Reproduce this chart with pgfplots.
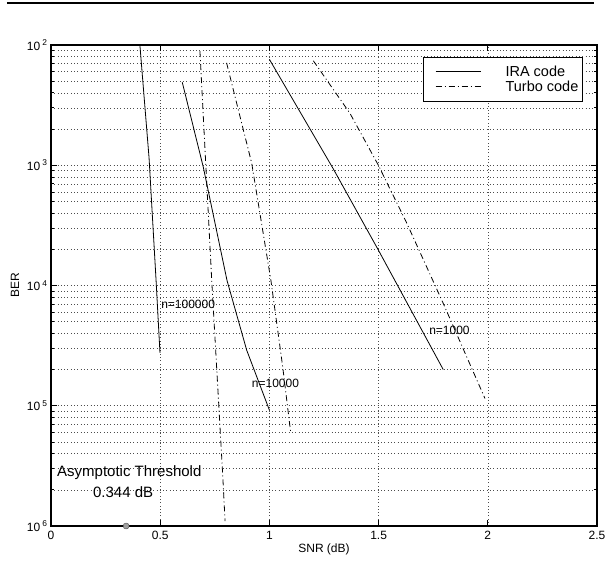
\documentclass[border=0pt]{standalone}
\usepackage{fontspec}
\setmainfont{Liberation Sans}
\usepackage{pgfplots}
\pgfplotsset{compat=1.18}

\pgfplotstableread{
x y
0.407 1.0e-2
0.449 1.15e-3
0.481 1.11e-4
0.499 2.75e-5
}\iraA
\pgfplotstableread{
x y
0.601 4.9e-3
0.697 9.7e-4
0.806 1.1e-4
0.896 2.9e-5
1.000 9.2e-6
}\iraB
\pgfplotstableread{
x y
1.000 7.6e-3
1.293 9.3e-4
1.499 1.97e-4
1.796 2.0e-5
}\iraC
\pgfplotstableread{
x y
0.682 8.9e-3
0.710 9.1e-4
0.736 1.1e-4
0.786 2.7e-6
0.797 1.1e-6
}\turboA
\pgfplotstableread{
x y
0.804 7.1e-3
0.919 1.04e-3
1.007 1.1e-4
1.061 2.1e-5
1.097 6.1e-6
}\turboB
\pgfplotstableread{
x y
1.201 7.4e-3
1.369 2.7e-3
1.499 1.0e-3
1.629 3.3e-4
1.796 7.1e-5
1.987 1.15e-5
}\turboC

\tikzset{dashdot/.style={dash pattern=on 6bp off 3bp on 1bp off 3bp}}
\newcommand{\tk}{\fontsize{12bp}{14bp}\selectfont}
\newcommand{\bg}{\fontsize{14.5bp}{16.7bp}\selectfont}
\newcommand{\an}{\fontsize{15bp}{17bp}\selectfont}

\begin{document}
\begin{tikzpicture}
\useasboundingbox (-51bp,-38bp) rectangle (554bp,526bp);
\begin{axis}[
  scale only axis, width=546bp, height=481bp,
  xmin=0, xmax=2.5, ymin=1e-6, ymax=1e-2,
  ymode=log,
  xtick={0,0.5,1,1.5,2,2.5},
  ytick={1e-6,1e-5,1e-4,1e-3,1e-2},
  yticklabels={10\hspace{2bp}\textsuperscript{6},10\hspace{2bp}\textsuperscript{5},
               10\hspace{2bp}\textsuperscript{4},10\hspace{2bp}\textsuperscript{3},
               10\hspace{2bp}\textsuperscript{2}},
  /pgf/number format/assume math mode=true,
  tick label style={font=\tk},
  xticklabel style={yshift=-2bp},
  tick align=inside,
  major tick length=6bp, minor tick length=3bp,
  axis line style={line width=1.2bp},
  tick style={black, line width=0.8bp},
  xmajorgrids, ymajorgrids, yminorgrids,
  major grid style={black!70, line width=0.6bp, dash pattern=on 0.7bp off 2.6bp},
  minor grid style={black!70, line width=0.6bp, dash pattern=on 0.7bp off 2.6bp},
  xlabel={SNR (dB)}, ylabel={BER},
  label style={font=\tk},
  xlabel style={at={(axis description cs:0.5,-0.048)}, anchor=center},
  ylabel style={at={(axis description cs:-0.066,0.5)}, anchor=center},
  legend style={at={(0.974,0.976)}, anchor=north east, draw=black,
    line width=0.9bp, font=\bg, inner xsep=2bp, inner ysep=7bp,
    row sep=0bp, nodes={inner xsep=2bp, inner ysep=1.5bp}},
  legend cell align=left,
  legend image code/.code={
    \draw[#1, line width=0.8bp] (10bp,0bp) -- (55bp,0bp);
    \path[draw=none] (0bp,0bp) -- (78bp,0bp);},
  clip=false,
]
\addplot[black, line width=0.8bp] table[x=x,y=y] {\iraA};
\addlegendentry{IRA code}
\addplot[black, line width=0.8bp, dashdot] table[x=x,y=y] {\turboA};
\addlegendentry{Turbo code}
\addplot[black, line width=0.8bp, forget plot] table[x=x,y=y] {\iraB};
\addplot[black, line width=0.8bp, forget plot] table[x=x,y=y] {\iraC};
\addplot[black, line width=0.8bp, dashdot, forget plot] table[x=x,y=y] {\turboB};
\addplot[black, line width=0.8bp, dashdot, forget plot] table[x=x,y=y] {\turboC};
\addplot[only marks, mark=*, mark size=3bp,
  mark options={fill=gray!75, draw=gray!60!black, line width=0.4bp}, forget plot]
  coordinates {(0.344,1e-6)};
\node[anchor=west, inner sep=0pt, font=\tk] at (axis cs:0.504,7.0e-5) {n=100000};
\node[anchor=west, inner sep=0pt, font=\tk] at (axis cs:0.919,1.54e-5) {n=10000};
\node[anchor=west, inner sep=0pt, font=\tk] at (axis cs:1.731,4.27e-5) {n=1000};
\node[anchor=west, inner sep=0pt, font=\an] at (axis cs:0.0275,2.77e-6) {Asymptotic Threshold};
\node[anchor=west, inner sep=0pt, font=\an] at (axis cs:0.192,1.93e-6) {0.344 dB};
\end{axis}
\draw[line width=2bp] (-44bp,523bp) -- (543bp,523bp);
\end{tikzpicture}
\end{document}
